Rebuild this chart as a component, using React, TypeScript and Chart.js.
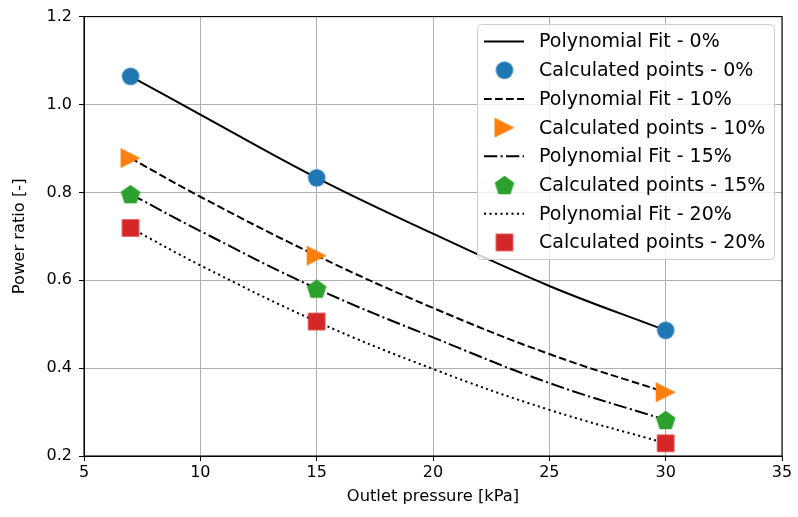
import React, { useEffect, useRef } from "react";
import { Chart, registerables } from "chart.js";
Chart.register(...registerables);

// ---- data ----
const pointX = [7, 15, 30];
const fitX = [7, 10, 15, 20, 25, 30];
const points0 = [1.064, 0.833, 0.486];
const points10 = [0.878, 0.656, 0.345];
const points15 = [0.796, 0.581, 0.282];
const points20 = [0.719, 0.506, 0.229];
const fit0 = [1.064, 0.977, 0.833, 0.706, 0.587, 0.486];
const fit10 = [0.878, 0.79, 0.656, 0.537, 0.432, 0.345];
const fit15 = [0.796, 0.712, 0.581, 0.47, 0.366, 0.282];
const fit20 = [0.719, 0.634, 0.506, 0.398, 0.305, 0.229];
const levels = ["0%", "10%", "15%", "20%"];
const xTicks = [5, 10, 15, 20, 25, 30, 35];
const yTicks = [0.2, 0.4, 0.6, 0.8, 1.0, 1.2];
const xTitle = "Outlet pressure [kPa]";
const yTitle = "Power ratio [-]";

const colors = ["#1f77b4", "#ff7f0e", "#2ca02c", "#d62728"];
const markerKinds = ["circle", "triRight", "pentagon", "square"];
const dashes: number[][] = [[], [7.7, 3.3], [13.3, 3.3, 2.1, 3.3], [2.1, 3.4]];

const FAMILY = "'DejaVu Sans', sans-serif";
const TICK_FONT = { family: FAMILY, size: 16 };
const TITLE_FONT = { family: FAMILY, size: 16.3 };
const LEGEND_SIZE = 19;

function makeMarker(kind: string, color: string): HTMLCanvasElement {
  const c = document.createElement("canvas");
  c.width = 26;
  c.height = 26;
  const g = c.getContext("2d")!;
  const cx = 13, cy = 13;
  g.fillStyle = color;
  g.beginPath();
  if (kind === "circle") {
    g.arc(cx, cy, 8.7, 0, Math.PI * 2);
  } else if (kind === "triRight") {
    g.moveTo(cx + 10, cy);
    g.lineTo(cx - 10, cy - 10);
    g.lineTo(cx - 10, cy + 10);
    g.closePath();
  } else if (kind === "pentagon") {
    const R = 10.3;
    for (let i = 0; i < 5; i++) {
      const a = -Math.PI / 2 + (i * 2 * Math.PI) / 5;
      const px = cx + R * Math.cos(a);
      const py = cy + 1 + R * Math.sin(a);
      if (i === 0) g.moveTo(px, py);
      else g.lineTo(px, py);
    }
    g.closePath();
  } else {
    g.rect(cx - 8.7, cy - 8.7, 17.4, 17.4);
  }
  g.fill();
  return c;
}

export default function App() {
  const ref = useRef<HTMLCanvasElement | null>(null);

  useEffect(() => {
    document.body.style.margin = "0";
    const canvas = ref.current!;
    const fits = [fit0, fit10, fit15, fit20];
    const pts = [points0, points10, points15, points20];
    const datasets: any[] = [];
    levels.forEach((lv, i) => {
      datasets.push({
        label: "Polynomial Fit - " + lv,
        data: fitX.map((x, k) => ({ x, y: fits[i][k] })),
        borderColor: "#000",
        borderWidth: 2,
        borderDash: dashes[i],
        pointRadius: 0,
        tension: 0.4,
        fill: false,
        _kind: "line",
      });
      datasets.push({
        label: "Calculated points - " + lv,
        data: pointX.map((x, k) => ({ x, y: pts[i][k] })),
        showLine: false,
        pointStyle: makeMarker(markerKinds[i], colors[i]),
        pointRadius: 10,
        pointHoverRadius: 10,
        borderColor: colors[i],
        backgroundColor: colors[i],
        _kind: "marker",
      });
    });
    datasets.forEach((d, i) => (d.order = -i));

    const framePlugin = {
      id: "frameAndLegend",
      afterDatasetsDraw(chart: any) {
        const { ctx, chartArea } = chart;
        ctx.save();
        ctx.strokeStyle = "#000";
        ctx.lineWidth = 1.1;
        ctx.setLineDash([]);
        ctx.strokeRect(chartArea.left, chartArea.top, chartArea.right - chartArea.left, chartArea.bottom - chartArea.top);

        // legend
        const bx = 477.5, by = 24.5, bw = 297, bh = 235;
        ctx.beginPath();
        ctx.roundRect(bx, by, bw, bh, 4);
        ctx.fillStyle = "rgba(255,255,255,0.8)";
        ctx.fill();
        ctx.strokeStyle = "#cccccc";
        ctx.lineWidth = 1;
        ctx.stroke();
        const ds = chart.data.datasets;
        ctx.font = `${LEGEND_SIZE}px ${FAMILY}`;
        ctx.textBaseline = "middle";
        ctx.textAlign = "left";
        ds.forEach((d: any, i: number) => {
          const y = 41.5 + i * 28.7;
          if (d._kind === "line") {
            ctx.beginPath();
            ctx.setLineDash(d.borderDash || []);
            ctx.strokeStyle = "#000";
            ctx.lineWidth = 2;
            ctx.moveTo(484, y);
            ctx.lineTo(524, y);
            ctx.stroke();
            ctx.setLineDash([]);
          } else {
            const m = d.pointStyle as HTMLCanvasElement;
            ctx.drawImage(m, 504.5 - m.width / 2, y - m.height / 2);
          }
          ctx.fillStyle = "#000";
          ctx.fillText(d.label, 539, y + 1);
        });
        ctx.restore();
      },
    };

    const chart = new Chart(canvas, {
      type: "line",
      data: { datasets },
      options: {
        responsive: false,
        animation: false,
        layout: { padding: { top: 16, right: 16, left: 0, bottom: 0 } },
        plugins: { legend: { display: false }, tooltip: { enabled: false } },
        events: [],
        scales: {
          x: {
            type: "linear",
            min: 5,
            max: 35,
            afterBuildTicks: (s: any) => {
              s.ticks = xTicks.map((v) => ({ value: v }));
            },
            afterFit: (s: any) => {
              s.height = 61;
            },
            grid: { color: "#b0b0b0", lineWidth: 1, tickLength: 5, tickColor: "#000", tickWidth: 1 },
            border: { color: "#000", width: 1 },
            ticks: { color: "#000", font: TICK_FONT, padding: 2, maxRotation: 0, autoSkip: false, callback: (v: any) => String(v) },
            title: { display: true, text: xTitle, color: "#000", font: TITLE_FONT, padding: { top: 0, bottom: 10 } },
          },
          y: {
            type: "linear",
            min: 0.2,
            max: 1.2,
            afterBuildTicks: (s: any) => {
              s.ticks = yTicks.map((v) => ({ value: v }));
            },
            afterFit: (s: any) => {
              s.width = 84;
            },
            grid: { color: "#b0b0b0", lineWidth: 1, tickLength: 5, tickColor: "#000", tickWidth: 1 },
            border: { color: "#000", width: 1 },
            ticks: { color: "#000", font: TICK_FONT, padding: 7, autoSkip: false, callback: (v: any) => Number(v).toFixed(1) },
            title: { display: true, text: yTitle, color: "#000", font: TITLE_FONT, padding: { top: 10, bottom: 0 } },
          },
        },
      } as any,
      plugins: [framePlugin],
    });
    return () => chart.destroy();
  }, []);

  return (
    <div style={{ position: "fixed", left: 0, top: 0, width: 798, height: 517, background: "#fff" }}>
      <canvas ref={ref} width={798} height={517} style={{ width: 798, height: 517, display: "block" }} />
    </div>
  );
}
